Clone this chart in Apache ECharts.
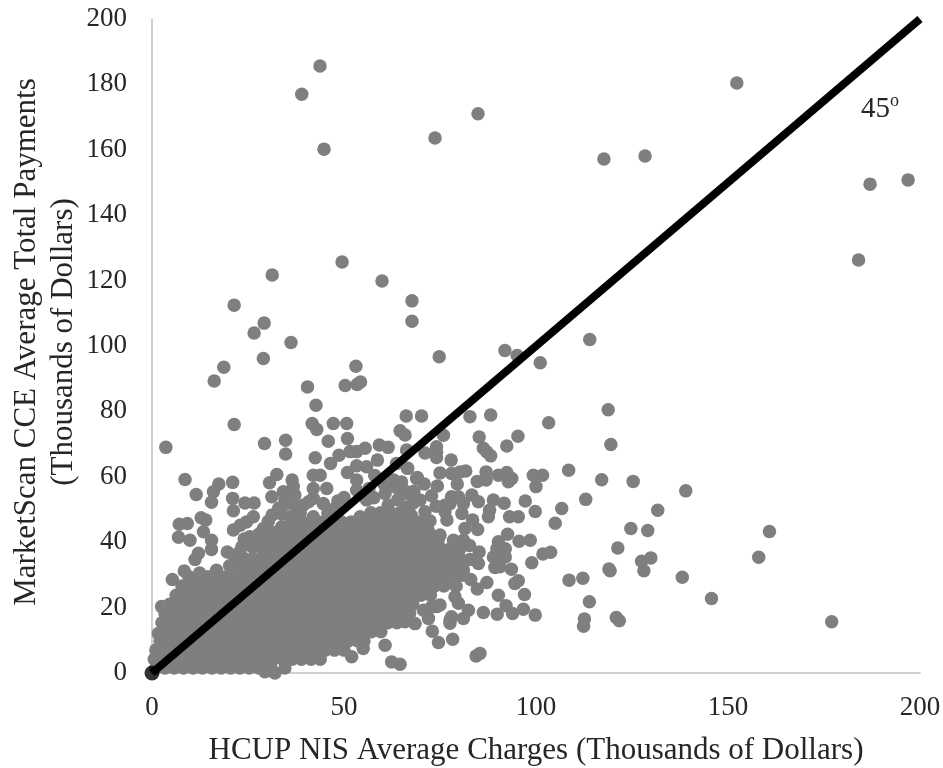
<!DOCTYPE html>
<html><head><meta charset="utf-8">
<script src="https://cdn.jsdelivr.net/npm/echarts@6/dist/echarts.min.js"></script>
<style>html,body{margin:0;padding:0;background:#fff}#c{width:943px;height:768px}</style>
</head><body><div id="c"></div>
<script>
const xTitle = 'HCUP NIS Average Charges (Thousands of Dollars)';
const yTitle = 'MarketScan CCE Average Total Payments\n(Thousands of Dollars)';
const diagonal = [[0,0],[200,200]];
const origin = [[0,0]];

// isolated points [x, y]
const farPoints = [[43.75,185.6],[39,177],[44.8,160.2],[73.7,163.6],[84.9,171],[152.3,180.4],[117.7,157.2],[128.4,158.1],[196.9,150.8],[187,149.5],[184,126.3],[31.3,121.7],[49.5,125.7],[59.9,119.9],[67.7,113.8],[67.7,107.6],[21.4,112.5],[29.2,107],[26.6,104],[18.7,93.5],[16.2,89.3],[36.2,101.1],[29,96.2],[74.8,96.7],[91.9,98.6],[95.1,97.1],[114,102],[53.1,93.8],[50.3,87.9],[53.4,88.2],[54.3,89],[40.5,87.5],[42.7,81.9],[101.1,94.9],[103.3,76.5],[118.8,80.5],[119.5,69.9],[108.5,62],[117.1,59.1],[125.3,58.6],[139,55.7],[112.95,53.1],[106.7,50.3],[105,45.8],[131.7,49.8],[124.7,44.2],[129.1,43.6],[121.3,38.2],[129.9,35.2],[127.5,34.2],[128.1,31.3],[138.1,29.3],[119.3,31.3],[119,31.8],[112.2,29],[108.6,28.4],[145.7,22.8],[113.9,21.8],[112.6,16.5],[112.4,14.3],[120.9,17],[121.7,16],[158,35.4],[160.8,43.3],[177,15.7]];

const rightPoints = [[88.2,78.9],[82.8,78.4],[70.2,78.6],[66.2,78.6],[75.9,72.7],[85.2,72.2],[86.3,68.7],[87.2,67.6],[88.2,66.4],[92.4,69.4],[95.3,72.4],[74.1,69.2],[74.1,67.5],[74.1,65.9],[71.1,67.3],[77.9,65.1],[66.5,62.6],[75,61.2],[78,61],[80.2,61.5],[81.7,61.8],[69.1,59.8],[70.9,57.8],[74.3,57.2],[79.5,57.8],[84.7,58.6],[87,61.5],[87,59],[90.2,60.5],[92.4,61.3],[92.8,58.5],[93.7,59.5],[99.3,60.5],[101.7,60.5],[100,57],[97.2,52.6],[99.8,49.4],[99.8,17.7],[96.7,19.5],[93.9,18.2],[92.2,20.6],[89.9,18],[86.3,18.5],[97,24],[90.2,23.8],[95.4,28.2],[94.5,27.4],[84.7,25.7],[87.2,27.7],[93.6,31.7],[98.9,33.7],[101.8,36.4],[103.8,36.9],[98.5,40.6],[95.6,40.3],[92.6,42.4],[90.2,40.1],[92,38],[89.8,38],[88.9,35.5],[92,35.5],[89.3,32.3],[90.6,32.5],[85.2,37],[82.8,34.7],[85,33.5],[84.8,43.9],[83.5,46.8],[81.5,44.2],[81.1,40.6],[78.5,40.6],[75,42.2],[95.4,47.8],[93.1,47.8],[91.7,51.9],[88.9,52.9],[87.6,47.8],[87.9,49.8],[83.3,54.4],[85,52.4],[80.7,48.8],[76.8,46.8],[76.3,51.3],[78,53.9],[79.8,53.9],[81.1,51.8],[77.6,51.8],[76.3,49.3],[80.8,29.9],[81.1,31.5],[78.9,23.3],[79.8,21.3],[82.4,19.2],[81.1,16.7],[78,17.2],[77.6,15.2],[75,20.8],[72.8,20.2],[70.7,19.2],[72,16.7],[73,12.8],[74.6,9.3],[78.3,10.3],[84.4,5.2],[85.4,6],[64.6,2.7],[62.4,3.4],[68.5,15.1],[65.9,15.7],[69.8,52.9],[71.1,49.3],[69.8,46.2],[66.3,50.8],[65.9,54.9],[74.1,20.3],[77.6,16.2],[83,28.6],[79.8,36.4],[82.7,39],[67.5,48.2],[72.4,46.5],[74,51],[72.8,54.2],[68,52],[63.5,56.8],[65,58.4],[60.5,57.6],[58,60.4],[56.5,56.4],[57.8,53.6],[80.2,38],[80,34.2],[79.2,26.5],[78.6,31.6]];

const upperPoints = [[41.7,76.3],[42.9,74.5],[47.2,76.3],[50.7,76.3],[64.6,74.1],[65.9,72.8],[21.4,76],[34.8,71.2],[29.3,70.2],[34.8,67],[3.6,69],[45.9,70.9],[50.9,71.7],[59.2,69.7],[61.5,69],[55.5,68.7],[53.3,67.7],[51.6,67.7],[48.7,66.6],[46.5,64.1],[42.5,65.8],[58.7,65.1],[66.3,68.2],[63.7,64.1],[53.3,63.4],[55.9,63.1],[50.9,61.3],[66.6,62.6],[42,60.5],[43.8,60.5],[32.5,60.7],[30.6,58.2],[36.5,59],[36.8,57],[21,58.3],[17.4,57.8],[16,55.4],[15.5,52.2],[11.5,54.6],[8.6,59.2],[21,53.4],[21.2,49.6],[24.2,52],[26.6,52],[31.3,48.3],[31.2,53.9],[34.2,55.4],[37.2,54.4],[35.1,51.8],[37.7,50.8],[39.4,51.3],[42,56.4],[42,53.4],[45.5,56.4],[44.6,51.8],[50,53.7],[53.3,59],[53.3,55.9],[55.9,52.9],[54.2,47.8],[60.7,54.9],[62.9,59],[66.3,55.4],[68.9,59.5],[12.8,47.5],[14,46.8],[7.1,45.5],[9.2,45.7],[6.9,41.5],[9.9,40.6],[13.4,43.2],[15.5,40.6],[15.5,37.8],[12.1,36.6],[11.2,34.7],[19.6,37],[21.6,35],[21.2,43.7],[23,45.2],[26.4,47.8],[24.6,46.2],[29,44.2],[33.8,44.7],[23.4,38.6],[25.5,41.7],[36,47.8],[42,47.8],[5.3,28.6],[2.5,20.3],[1.65,12.1],[60.7,8.5],[52,5],[55,7.5],[32,0],[29.4,0.4],[33,50.4],[47.5,50.2],[61.5,51.4],[64,53],[68.2,55.6],[33.8,48.6],[38.6,49],[40.8,52.4],[45.8,49],[48.4,52.6],[34.6,53],[27.8,42.4],[30.3,46.4],[31.8,42.2],[24,41],[26.2,38.5],[20.2,32.8],[22.6,36.8],[8.4,31.2],[12.4,30.6],[16.8,31.4]];

// dense mass: first number in each row is y, the rest are x values
const denseLow = [
 [1.5,1,3.4,5.8,8.2,10.7,13.1,15.6,18,20.5,22.9,25.3,27.8,31,34.6],
 [4.2,0.6,2.2,4.6,7.1,9.5,12,14.4,16.9,19.3,21.8,24.2,26.7,29.1,31.6,34,36.5,38.9,41.4,43.8],
 [7,1,3.4,5.9,8.3,10.8,13.2,15.7,18.1,20.6,23,25.5,27.9,30.4,32.8,35.3,37.7,40.2,42.6,45.1,47.5,50],
 [9.8,2.1,4.6,7,9.5,11.9,14.4,16.8,19.3,21.7,24.2,26.6,29.1,31.5,34,36.4,38.9,41.3,43.8,46.2,48.7,51.1,53.6,55.2],
 [12.6,3.2,5.7,8.1,10.6,13,15.5,17.9,20.4,22.8,25.3,27.7,30.2,32.6,35.1,37.5,40,42.4,44.9,47.3,49.8,52.2,54.7,57.1,59.6]
];
const denseMid = [
 [15.4,2.6,5,7.5,9.9,12.4,14.8,17.3,19.7,22.2,24.6,27.1,29.5,32,34.4,36.9,39.3,41.8,44.2,46.7,49.1,51.6,54,56.5,58.9,61.4,63.8],
 [18.2,3.4,5.9,8.3,10.8,13.2,15.7,18.1,20.6,23,25.5,27.9,30.4,32.8,35.3,37.7,40.2,42.6,45.1,47.5,50,52.4,54.9,57.3,59.8,62.2,64.7,67.1],
 [21,4.6,6.6,9.1,11.5,14,16.4,18.9,21.3,23.8,26.2,28.7,31.1,33.6,36,38.5,40.9,43.4,45.8,48.3,50.7,53.2,55.6,58.1,60.5,63,65.4,67.9],
 [23.8,6.3,8.8,11.2,13.7,16.1,18.6,21,23.5,25.9,28.4,30.8,33.3,35.7,38.2,40.6,43.1,45.5,48,50.4,52.9,55.3,57.8,60.2,62.7,65.1,67.6,70,72.5],
 [26.6,7.8,9.9,12.3,14.8,17.2,19.7,22.1,24.6,27,29.5,31.9,34.4,36.8,39.3,41.7,44.2,46.6,49.1,51.5,54,56.4,58.9,61.3,63.8,66.2,68.7,71.1,73.6,76],
 [29.4,9.6,12.1,14.5,17,19.4,21.9,24.3,26.8,29.2,31.7,34.1,36.6,39,41.5,43.9,46.4,48.8,51.3,53.7,56.2,58.6,61.1,63.5,66,68.4,70.9,73.3,75.8,78.2]
];
const denseHigh = [
 [32.2,22.8,25.7,28.1,30.6,33,35.5,37.9,40.4,42.8,45.3,47.7,50.2,52.6,55.1,57.5,60,62.4,64.9,67.3,69.8,72.2,74.7,77.1],
 [35,24,26.4,28.9,31.3,33.8,36.2,38.7,41.1,43.6,46,48.5,50.9,53.4,55.8,58.3,60.7,63.2,65.6,68.1,70.5,73,75.4,77.9],
 [37.8,28.9,31.4,33.8,36.3,38.7,41.2,43.6,46.1,48.5,51,53.4,55.9,58.3,60.8,63.2,65.7,68.1,70.6,73,75.5,77.4],
 [40.6,28.2,30.6,33.1,35.5,38,40.4,42.9,45.3,47.8,50.2,52.7,55.1,57.6,60,62.5,64.9,67.4,69.8,72.3,74.5],
 [43.4,30.5,33,35.4,37.9,40.3,42.8,45.2,47.7,50.1,52.6,55,57.5,59.9,62.4,64.8,67.3,69.7,72],
 [46.2,44.5,47,49.4,51.9,54.3,56.8,59.2,61.7,64.1,66.6,68.8,36.5,39.2,41.5],
 [49,57,59.5,62,64.5,67]
];

const denseRows = denseLow.concat(denseMid, denseHigh);
const densePoints = [];
denseRows.forEach(function (row) {
  for (let i = 1; i < row.length; i++) densePoints.push([row[i], row[0]]);
});
const allPoints = densePoints.concat(farPoints, rightPoints, upperPoints);

const chart = echarts.init(document.getElementById('c'), null, {renderer: 'canvas'});
const serif = '"Liberation Serif", serif';
const axisLine = {show: true, onZero: false, lineStyle: {color: '#bfbfbf', width: 1.5}};
chart.setOption({
  animation: false,
  backgroundColor: '#fff',
  grid: {left: 152, right: 23, top: 19, bottom: 95, containLabel: false, outerBoundsMode: 'none'},
  xAxis: {
    type: 'value', min: 0, max: 200, interval: 50,
    name: xTitle, nameLocation: 'middle', nameGap: 62, nameMoveOverlap: false,
    nameTextStyle: {fontFamily: serif, fontSize: 31, color: '#262626'},
    axisLine: axisLine, axisTick: {show: false}, splitLine: {show: false},
    axisLabel: {fontFamily: serif, fontSize: 27, color: '#262626', margin: 21, hideOverlap: false}
  },
  yAxis: {
    type: 'value', min: 0, max: 200, interval: 20,
    name: yTitle, nameLocation: 'middle', nameGap: 70, nameRotate: 90, nameMoveOverlap: false,
    nameTextStyle: {fontFamily: serif, fontSize: 31, color: '#262626', lineHeight: 37, padding: [0,0,0,8]},
    axisLine: axisLine, axisTick: {show: false}, splitLine: {show: false},
    axisLabel: {fontFamily: serif, fontSize: 27, color: '#262626', margin: 25}
  },
  series: [
    {type: 'scatter', data: allPoints, symbolSize: 13.5, clip: false, itemStyle: {color: '#7f7f7f', opacity: 1}},
    {type: 'line', data: diagonal, symbol: 'none', clip: true, lineStyle: {color: '#000', width: 8, cap: 'butt'}, z: 5},
    {type: 'scatter', data: origin, symbolSize: 15, clip: false, itemStyle: {color: '#000'}, z: 6}
  ],
  graphic: [{
    type: 'text', left: 861, top: 92, z: 10,
    style: {
      text: '{a|45}{b|o}',
      rich: {
        a: {fontFamily: serif, fontSize: 29, fill: '#262626', lineHeight: 34},
        b: {fontFamily: serif, fontSize: 18, fill: '#262626', verticalAlign: 'top', lineHeight: 34, padding: [0,0,8,0]}
      }
    }
  }]
});
</script></body></html>
